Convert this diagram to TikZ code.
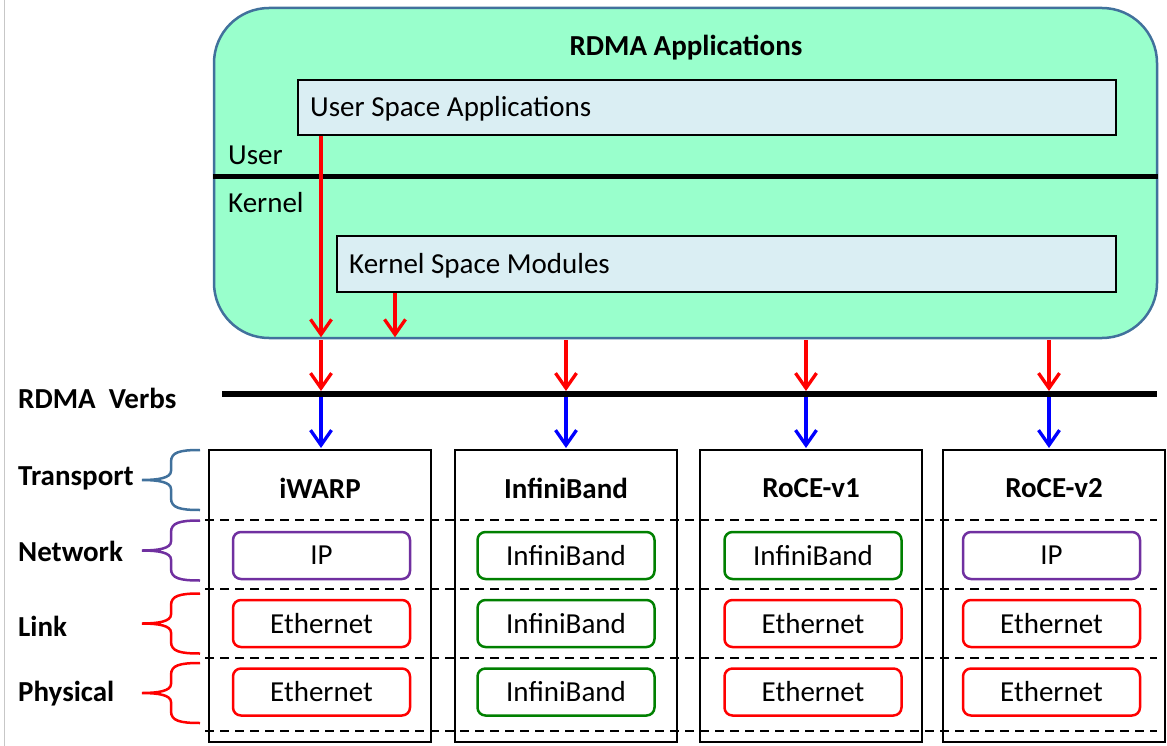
\documentclass[tikz,border=0pt]{standalone}
\usepackage{fontspec}
\setmainfont{Carlito}
\usetikzlibrary{arrows.meta}
\definecolor{appgreen}{HTML}{99FFCC}
\definecolor{appborder}{HTML}{41719C}
\definecolor{boxblue}{HTML}{DAEEF3}
\definecolor{ipurple}{HTML}{7030A0}
\definecolor{ibgreen}{HTML}{008000}
\definecolor{ethred}{HTML}{FF0000}
\definecolor{arrblue}{HTML}{0000FF}
\tikzset{
  brc/.pic={\draw[pic actions, line width=2.5pt] (0,0) .. controls (-20,0) and (-29,2) .. (-29,12) -- (-29,21) .. controls (-29,28) and (-42,30) .. (-58,30) .. controls (-42,30) and (-29,32) .. (-29,39) -- (-29,48) .. controls (-29,58) and (-20,60) .. (0,60);}
}
\begin{document}
\begin{tikzpicture}[x=1pt,y=-1pt,
  txt/.style={font=\fontsize{29}{34}\selectfont, inner sep=0pt, yshift=-2pt},
  btxt/.style={font=\fontsize{29}{34}\selectfont\bfseries, inner sep=0pt, yshift=-2pt},
  appbox/.style={draw=appborder, fill=appgreen, line width=2.5pt, rounded corners=55pt, inner sep=0pt},
  spacebox/.style={draw=black, fill=boxblue, line width=2pt, inner sep=0pt},
  protobox/.style={draw=black, line width=2pt, minimum width=222pt, minimum height=292pt, inner sep=0pt},
  layerbox/.style={draw, rounded corners=8pt, line width=2.5pt, minimum width=177pt, minimum height=47pt, inner sep=0pt, font=\fontsize{29}{34}\selectfont},
  redarr/.style={draw=ethred, line width=3.3pt, -{Straight Barb[length=15pt,width=21pt]}},
  bluearr/.style={draw=arrblue, line width=3.3pt, -{Straight Barb[length=15pt,width=21pt]}},
  dashline/.style={draw=black, line width=2pt, dash pattern=on 9pt off 6pt},
  thickline/.style={draw=black, line width=#1}
]
\useasboundingbox (0,0) rectangle (1167,746);
% left border line
\coordinate (gT) at (4.5,0);
\coordinate (gB) at (4.5,746);
\draw[black!22, line width=1.5pt] (gT) -- (gB);

% application box
\node[appbox, minimum width=943pt, minimum height=330pt] (apps) at (685.5,173) {};
\node[btxt] (apptitle) at (686,46) {RDMA Applications};
\node[spacebox, minimum width=818pt, minimum height=55pt] (usr) at (707,107.5) {};
\node[txt, anchor=west] (usrtxt) at (310,107) {User Space Applications};
\node[spacebox, minimum width=779pt, minimum height=56pt] (krn) at (726.5,264) {};
\node[txt, anchor=west] (krntxt) at (349,264) {Kernel Space Modules};
\node[txt, anchor=west] (userlbl) at (228,153) {User};
\node[txt, anchor=west] (kernlbl) at (228,201) {Kernel};
\draw[thickline=5pt] (apps.west |- 0,177) coordinate (sepL) -- (apps.east |- 0,177) coordinate (sepR);

% columns
\coordinate (c1) at (321,0);
\coordinate (c2) at (566,0);
\coordinate (c3) at (806,0);
\coordinate (c4) at (1049,0);
\coordinate (k1) at (395,0);

\draw[redarr, shorten >=2pt] (usr.south -| c1) -- (apps.south -| c1);
\draw[redarr, shorten >=2pt] (krn.south -| k1) -- (apps.south -| k1);

% verbs line
\node[btxt, anchor=west] (verbs) at (18,396) {RDMA\ \ Verbs};
\coordinate (vL) at (222,394);
\coordinate (vR) at (1157,394);
\draw[thickline=6pt] (vL) -- (vR);

% protocol boxes
\node[protobox] (iw) at (320,596) {};
\node[protobox] (ib) at (566,596) {};
\node[protobox] (r1) at (811,596) {};
\node[protobox] (r2) at (1054,596) {};
\node[btxt] (iwt) at (320,486) {iWARP};
\node[btxt] (ibt) at (566,486) {InfiniBand};
\node[btxt] (r1t) at (811,486) {RoCE-v1};
\node[btxt] (r2t) at (1054,486) {RoCE-v2};

% arrows through verbs
\foreach \c/\b in {c1/iw, c2/ib, c3/r1, c4/r2}{
  \draw[redarr, shorten <=1pt, shorten >=3pt] (apps.south -| \c) -- (vL -| \c);
  \draw[bluearr, shorten <=3pt, shorten >=1pt] (vL -| \c) -- (\b.north -| \c);
}

% dashed layer separators
\foreach \i/\y in {1/519.5, 2/589, 3/657.5, 4/730.5}{
  \coordinate (d\i L) at (205,\y);
  \coordinate (d\i R) at (1157,\y);
  \draw[dashline] (d\i L) -- (d\i R);
}

% layer boxes
\node[layerbox, draw=ipurple] (iwn) at (321.5,555.5) {IP};
\node[layerbox, draw=ethred] (iwl) at (321.5,623.5) {Ethernet};
\node[layerbox, draw=ethred] (iwp) at (321.5,692) {Ethernet};
\node[layerbox, draw=ibgreen] (ibn) at (566,555.5) {InfiniBand};
\node[layerbox, draw=ibgreen] (ibl) at (566,623.5) {InfiniBand};
\node[layerbox, draw=ibgreen] (ibp) at (566,692) {InfiniBand};
\node[layerbox, draw=ibgreen] (r1n) at (813,555.5) {InfiniBand};
\node[layerbox, draw=ethred] (r1l) at (813,623.5) {Ethernet};
\node[layerbox, draw=ethred] (r1p) at (813,692) {Ethernet};
\node[layerbox, draw=ipurple] (r2n) at (1051.5,555.5) {IP};
\node[layerbox, draw=ethred] (r2l) at (1051.5,623.5) {Ethernet};
\node[layerbox, draw=ethred] (r2p) at (1051.5,692) {Ethernet};

% layer labels and braces
\node[btxt, anchor=west] (ltr) at (18,476) {Transport};
\node[btxt, anchor=west] (lnw) at (18,549) {Network};
\node[btxt, anchor=west] (llk) at (18,624) {Link};
\node[btxt, anchor=west] (lph) at (18,692) {Physical};
\pic[draw=appborder] at (200,450) {brc};
\pic[draw=ipurple] at (200,520.5) {brc};
\pic[draw=ethred] at (200,593.5) {brc};
\pic[draw=ethred] at (200,663) {brc};
\end{tikzpicture}
\end{document}
